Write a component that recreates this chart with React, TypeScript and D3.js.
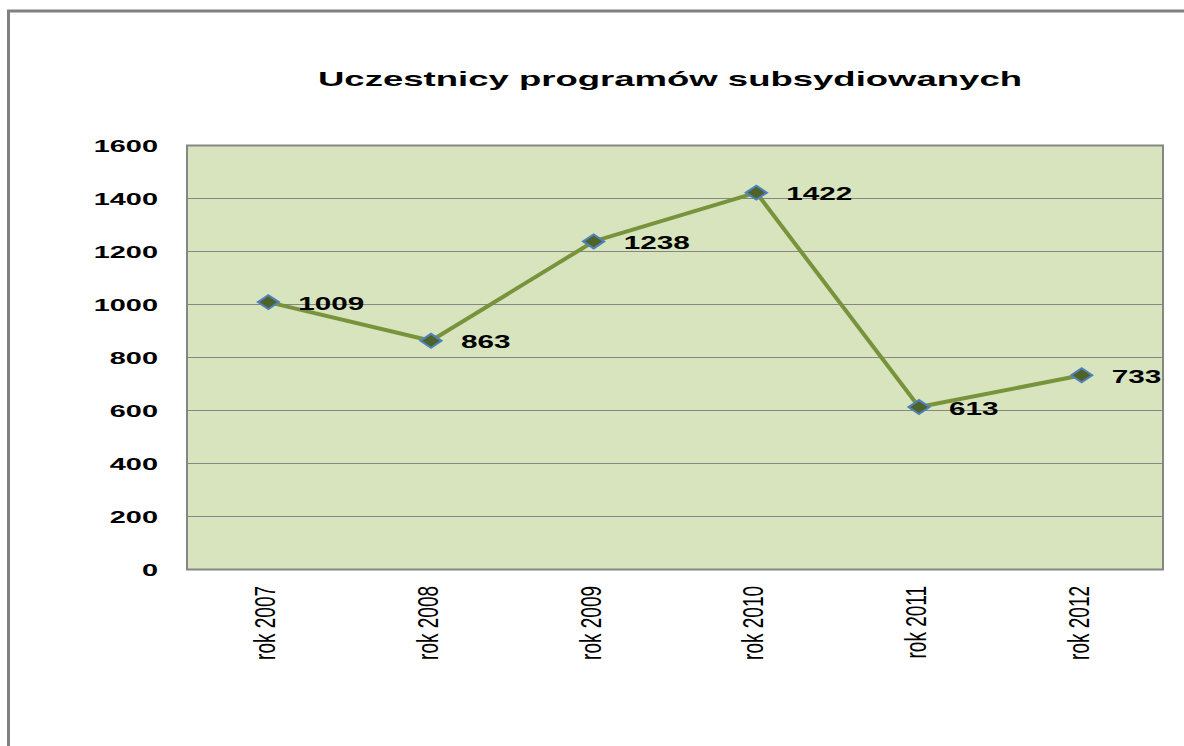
import React from "react";
import * as d3 from "d3";

const categories = ["rok 2007", "rok 2008", "rok 2009", "rok 2010", "rok 2011", "rok 2012"];
const values = [1009, 863, 1238, 1422, 613, 733];
const yTicks = [0, 200, 400, 600, 800, 1000, 1200, 1400, 1600];
const title = "Uczestnicy programów subsydiowanych";

const W = 1184;
const H = 746;
const plot = { left: 187, right: 1163, top: 145.5, bottom: 569.5 };
const FONT = "'Liberation Sans', Arial, sans-serif";

export default function App() {
  const x = d3
    .scaleBand<string>()
    .domain(categories)
    .range([plot.left, plot.right])
    .paddingInner(0)
    .paddingOuter(0);
  const y = d3.scaleLinear().domain([0, 1600]).range([plot.bottom, plot.top]);
  const cx = (c: string) => (x(c) as number) + x.bandwidth() / 2;

  const line = d3
    .line<number>()
    .x((_, i) => cx(categories[i]))
    .y((v) => y(v));

  const diamond = (px: number, py: number) =>
    `M${px - 10.5},${py} L${px},${py - 7} L${px + 10.5},${py} L${px},${py + 7} Z`;

  const sx = 1.7;

  return (
    <svg
      width={W}
      height={H}
      style={{ position: "absolute", left: 0, top: 0, background: "#fff" }}
    >
      {/* outer frame */}
      <rect x={8.5} y={11} width={W + 20} height={H + 20} fill="#fff" stroke="#808080" strokeWidth={3} />

      {/* title */}
      <text
        x={318}
        y={86}
        fontFamily={FONT}
        fontWeight="bold"
        fontSize={21}
        textLength={704}
        lengthAdjust="spacingAndGlyphs"
        fill="#000"
      >
        {title}
      </text>

      {/* plot area */}
      <rect
        x={plot.left}
        y={plot.top}
        width={plot.right - plot.left}
        height={plot.bottom - plot.top}
        fill="#D7E4BD"
      />
      {yTicks.slice(1, -1).map((t) => (
        <line
          key={t}
          x1={plot.left}
          x2={plot.right}
          y1={y(t)}
          y2={y(t)}
          stroke="#868686"
          strokeWidth={1}
        />
      ))}
      <rect
        x={plot.left}
        y={plot.top}
        width={plot.right - plot.left}
        height={plot.bottom - plot.top}
        fill="none"
        stroke="#868686"
        strokeWidth={2}
      />

      {/* y tick labels */}
      {yTicks.map((t) => (
        <text
          key={t}
          transform={`translate(158,${y(t)}) scale(${sx},1)`}
          textAnchor="end"
          dy="0.36em"
          fontFamily={FONT}
          fontWeight="bold"
          fontSize={17}
          fill="#000"
        >
          {t}
        </text>
      ))}

      {/* x labels */}
      {categories.map((c) => (
        <text
          key={c}
          transform={`translate(${cx(c) + 7},586) scale(1.6,1) rotate(-90)`}
          textAnchor="end"
          fontFamily={FONT}
          fontSize={19}
          fill="#000"
        >
          {c}
        </text>
      ))}

      {/* line */}
      <path d={line(values) || ""} fill="none" stroke="#77933C" strokeWidth={4} strokeLinejoin="round" />

      {/* markers */}
      {values.map((v, i) => (
        <path
          key={i}
          d={diamond(cx(categories[i]), y(v))}
          fill="#4F6228"
          stroke="#4F81BD"
          strokeWidth={2}
        />
      ))}

      {/* data labels */}
      {values.map((v, i) => (
        <text
          key={i}
          transform={`translate(${cx(categories[i]) + 30},${y(v) + 1}) scale(1.65,1)`}
          dy="0.36em"
          fontFamily={FONT}
          fontWeight="bold"
          fontSize={18}
          fill="#000"
        >
          {v}
        </text>
      ))}
    </svg>
  );
}
